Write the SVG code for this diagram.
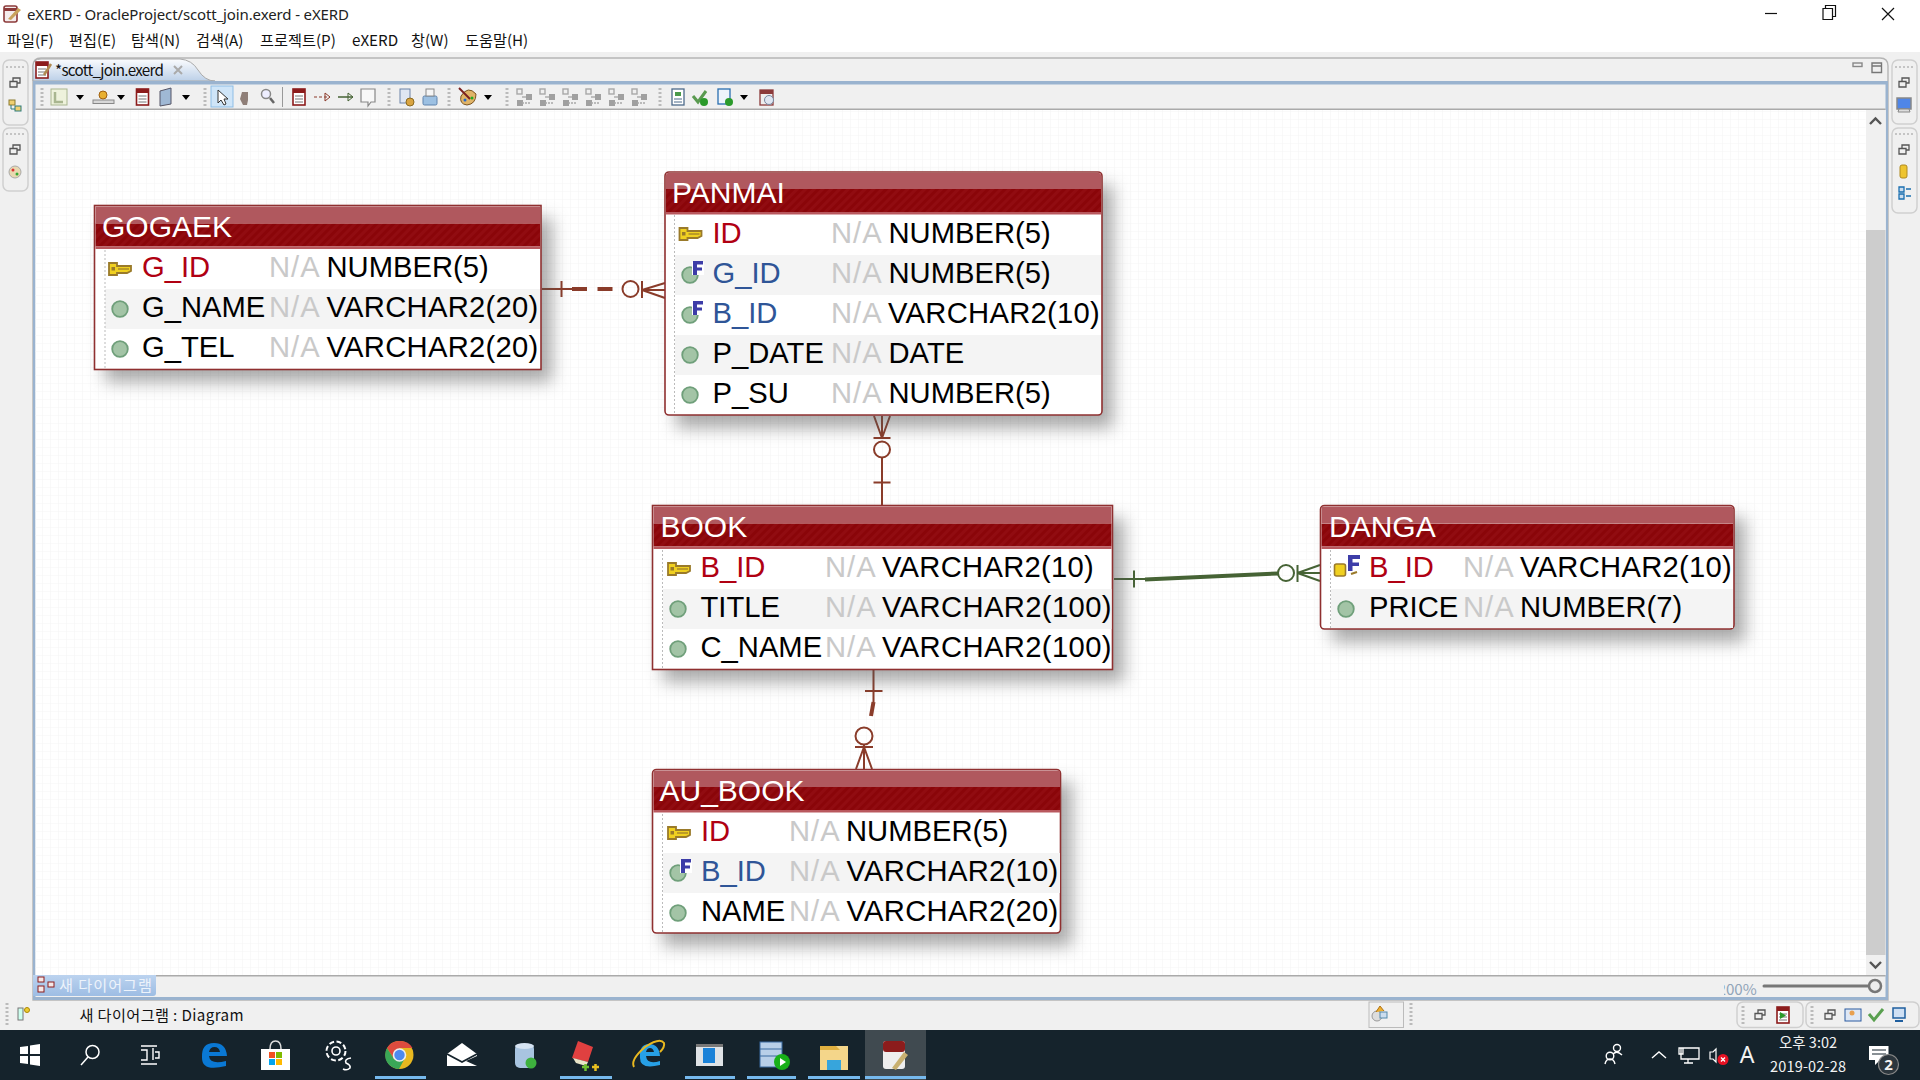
<svg xmlns="http://www.w3.org/2000/svg" xmlns:xlink="http://www.w3.org/1999/xlink" width="1920" height="1080" viewBox="0 0 1920 1080">
<defs>
<style>
.ui{font-family:"Noto Sans CJK KR","Noto Sans",sans-serif;font-size:15.2px;fill:#111}
.tt{font-family:"Noto Sans","Noto Sans CJK KR",sans-serif;font-size:15px;fill:#222}
.tray{font-family:"Noto Sans CJK KR","Noto Sans",sans-serif;font-size:14.5px;fill:#f2f2f2;text-anchor:middle}
.h{font-family:"Liberation Sans",Arial,sans-serif;font-size:30px;fill:#fff}
.c{font-family:"Liberation Sans",Arial,sans-serif;font-size:29.2px;fill:#000}
.v{letter-spacing:.28px}.w{letter-spacing:.38px}
.pk{fill:#b00012}.fk{fill:#2f5597}.na{fill:#c9c9c9;letter-spacing:1px}
.frame{fill:#fff;stroke:#8f3030;stroke-width:1.6}
.stripe{fill:#f4f4f4}
.dots{stroke:#bbb;stroke-width:1;stroke-dasharray:2 2}
.rel{fill:none;stroke:#8a3c2a;stroke-width:2}
.relb{fill:none;stroke:#8a3c2a;stroke-width:4}
.relg{fill:none;stroke:#466335;stroke-width:2}
.g1{fill:none;stroke:#a8a8a8;stroke-width:1.4}
.g2{fill:#a0a0a0}
.grip{stroke:#bbb;stroke-width:3;stroke-dasharray:2 2}
.pn{fill:#f0f0f0;stroke:#cfcfcf;stroke-width:1.5}
.arr{fill:#000}
.shadow{fill:#555;opacity:.5}
</style>
<pattern id="grid" x="2" y="7" width="8" height="8" patternUnits="userSpaceOnUse"><path d="M0 0H8M0 0V8" stroke="#f5f5f5" stroke-width="1.2" fill="none"/></pattern>
<pattern id="hatch" width="6" height="6" patternUnits="userSpaceOnUse" patternTransform="rotate(45)"><rect width="6" height="6" fill="#8a0509"/><rect width="3" height="6" fill="#910c11"/></pattern>
<filter id="sh" x="-15%" y="-20%" width="130%" height="150%"><feGaussianBlur stdDeviation="8.500"/></filter>
<linearGradient id="tab" x1="0" y1="0" x2="0" y2="1"><stop offset="0" stop-color="#fbfcfe"/><stop offset="1" stop-color="#bcd0e8"/></linearGradient>
<linearGradient id="tab2" x1="0" y1="0" x2="0" y2="1"><stop offset="0" stop-color="#bcd3ef"/><stop offset="1" stop-color="#9dbde4"/></linearGradient>
<g id="key"><path d="M1 -6H9V-3H23V2L19 4H9V6H1Z" fill="#f0d020" stroke="#9a7a2a" stroke-width="1.800"/><rect x="3.500" y="-2" width="3.500" height="3.500" fill="#9a7a2a"/><path d="M10 0H21" stroke="#9a7a2a" stroke-width="1.200"/></g>
<g id="dot"><circle r="7.800" fill="#a3c4a6" stroke="#6f9f7a" stroke-width="1.800"/></g>
<g id="fkdot"><circle r="7.800" fill="#a3c4a6" stroke="#6f9f7a" stroke-width="1.800"/><rect x="2" y="-13" width="12" height="13" fill="#fff"/><path d="M3 -14H13V-10.500H7V-7.500H12V-4.500H7V0H3Z" fill="#3d3da8"/></g>
<g id="restore"><path d="M-2 -1.500V-5H5V0H2M-5 -1.500H2V4H-5Z" fill="#f0f0f0" stroke="#555" stroke-width="1.300"/></g>
<g id="tbl"><rect x="-6" y="-8" width="12" height="16" fill="#fff" stroke="#8c1c1c" stroke-width="1.600"/><rect x="-6" y="-8" width="12" height="4" fill="#8c1c1c"/><path d="M-4 -1H4M-4 2H4M-4 5H4" stroke="#777"/></g>
<g id="galign"><rect x="-7" y="-8" width="5" height="5" class="g1"/><path d="M-2 0H7" class="g1"/><rect x="2" y="-3" width="6" height="6" class="g2"/><rect x="-7" y="3" width="6" height="6" class="g2"/><path d="M-2 6H7" class="g1" stroke-dasharray="2 1"/></g>
<clipPath id="zc"><rect x="1724" y="978" width="40" height="22"/></clipPath>
</defs>

<g id="chrome">
<rect width="1920" height="1080" fill="#f0f0f0"/>
<rect width="1920" height="52" fill="#fff"/>
<g id="appicon"><rect x="4" y="6" width="13" height="16" rx="2" fill="#f4ecec" stroke="#8c3a3a" stroke-width="1.600"/><path d="M4 8H17V11H4Z" fill="#8c3a3a"/><path d="M8 19L18 8L21 10L11 20Z" fill="#c9a25c"/></g>
<text class="tt" x="27" y="19.500" textLength="322">eXERD - OracleProject/scott_join.exerd - eXERD</text>
<path d="M1765 13.500H1777" stroke="#111" stroke-width="1.200"/>
<path d="M1823 8.500V19.500H1832.500V8.500ZM1825.500 8.500V5.500H1835.500V16.500H1832.500" fill="none" stroke="#111" stroke-width="1.200"/>
<path d="M1882 8L1894 20M1894 8L1882 20" stroke="#111" stroke-width="1.200"/>
<g id="menu">
<text class="ui" x="7" y="46">파일(F)</text><text class="ui" x="69" y="46">편집(E)</text><text class="ui" x="131" y="46">탐색(N)</text><text class="ui" x="196" y="46">검색(A)</text><text class="ui" x="260" y="46">프로젝트(P)</text><text class="ui" x="352" y="46">eXERD</text><text class="ui" x="411" y="46">창(W)</text><text class="ui" x="465" y="46">도움말(H)</text>
</g>
<path d="M33 1000V66Q33 58 41 58H1880Q1888 58 1888 66V1000Z" fill="#f0f0f0" stroke="#b5b5b5" stroke-width="1.400"/>
<path d="M33 81V66Q33 59 41 59H180Q192 60 198 70Q205 81 215 81Z" fill="url(#tab)" stroke="#aaa" stroke-width="1"/>
<rect x="33" y="81" width="1855" height="3.500" fill="#9ab3cf"/>
<rect x="33" y="81" width="2.500" height="919" fill="#9ab3cf"/>
<rect x="1885.500" y="81" width="2.500" height="919" fill="#9ab3cf"/>
<rect x="33" y="997" width="1855" height="3" fill="#9ab3cf"/>
<rect x="35.500" y="108.500" width="1850" height="1.500" fill="#aaa"/>
<rect x="35.500" y="110" width="1850" height="865" fill="#fff"/>
<rect x="35.500" y="110" width="1830" height="865" fill="url(#grid)"/>
<rect x="35.500" y="975" width="1850" height="1.500" fill="#aaa"/>
<rect x="1866" y="110" width="19.500" height="865" fill="#f0f0f0"/>
<rect x="1866" y="230" width="19.500" height="725" fill="#cdcdcd"/>
<path d="M1870 124L1875.500 118.500L1881 124M1870 962L1875.500 967.500L1881 962" fill="none" stroke="#555" stroke-width="2.400"/>
<g id="tab-label">
<use xlink:href="#tbl" transform="translate(42 70)"/><path d="M44 75L51 64" stroke="#b08a50" stroke-width="2.500"/>
<text class="ui" x="55" y="75.500" textLength="109">*scott_join.exerd</text>
<path d="M174 66L182 74M182 66L174 74" stroke="#aaa" stroke-width="2"/>
</g>
<rect x="1853" y="63" width="9" height="3.500" fill="none" stroke="#888" stroke-width="1.400"/>
<path d="M1872 63H1881.500V72.500H1872ZM1872 66H1881.500" fill="none" stroke="#777" stroke-width="1.400"/>
</g>

<g id="toolbar">
<path class="grip" d="M42 88V106M205 88V106M389 88V106M449 88V106M507 88V106M660 88V106"/>
<rect x="51" y="89" width="16" height="16" fill="#eef2dc" stroke="#a9b690"/><path d="M55 92V102H63" fill="none" stroke="#a9b690" stroke-width="2.500"/>
<path class="arr" d="M76 95H84L80 100ZM117 95H125L121 100ZM182 95H190L186 100ZM484 95H492L488 100ZM740 95H748L744 100Z"/>
<rect x="93" y="100" width="21" height="3.500" fill="#d8d8d8" stroke="#888"/><circle cx="103" cy="95" r="4" fill="#e8b030" stroke="#a06010"/>
<use xlink:href="#tbl" transform="translate(142.500 97)"/>
<path d="M160 91L171 88V104L160 106Z" fill="#9fb8d4" stroke="#556"/>
<rect x="211" y="86" width="22" height="21" fill="#cfe5f8" stroke="#8dbde6"/>
<path d="M218 90V103L221 100L224 105L226 104L224 99L228 99Z" fill="#fff" stroke="#333"/>
<path d="M242 92H248V100L247 105H243L240 99Z" fill="#8f7f78"/>
<circle cx="266" cy="94" r="4.500" fill="#eef" stroke="#888" stroke-width="1.500"/><path d="M270 98L274 103" stroke="#666" stroke-width="2.500"/>
<path d="M282.500 87V107" stroke="#999"/>
<use xlink:href="#tbl" transform="translate(299 97)"/>
<path d="M314 97H330" stroke="#8c3a2a" stroke-dasharray="3 2"/><path d="M325 93L330 97L325 101M325 93V101" fill="none" stroke="#8c3a2a"/>
<path d="M338 97H353" stroke="#466335" stroke-width="1.500"/><path d="M348 93L353 97L348 101M348 93V101" fill="none" stroke="#466335"/>
<path d="M361 89H375V102H371L368 106V102H361Z" fill="#f8f8f8" stroke="#888" stroke-width="1.200"/>
<rect x="400" y="89" width="10" height="14" fill="#dfe6f2" stroke="#6d83a8"/><circle cx="410" cy="102" r="4" fill="#d9a441" stroke="#8b6a20"/>
<rect x="423" y="96" width="14" height="9" rx="1.500" fill="#9cc0e2" stroke="#5f83ad"/><rect x="426" y="89" width="8" height="7" fill="#f5f5f5" stroke="#8a8a8a"/>
<path d="M461 96Q468 85 476 94Q476 104 467 105Q459 104 461 96Z" fill="#e0b468" stroke="#7a5320"/><path d="M459 88L470 99" stroke="#7a2020" stroke-width="2"/><circle cx="472" cy="98" r="1.500" fill="#2a2"/><circle cx="465" cy="100" r="1.500" fill="#26c"/>
<use xlink:href="#galign" transform="translate(524 97)"/><use xlink:href="#galign" transform="translate(547 97)"/><use xlink:href="#galign" transform="translate(570 97)"/><use xlink:href="#galign" transform="translate(593 97)"/><use xlink:href="#galign" transform="translate(616 97)"/><use xlink:href="#galign" transform="translate(639 97)"/>
<rect x="672" y="89" width="12" height="16" fill="#fff" stroke="#4d6a8a" stroke-width="1.300"/><rect x="675" y="92" width="6" height="4" fill="#4a9a4a"/><path d="M674 99H682M674 102H682" stroke="#4d6a8a"/>
<path d="M693 96L698 102L706 91" fill="none" stroke="#5a9a50" stroke-width="3"/><circle cx="704" cy="102" r="4" fill="#2b9a2b"/>
<rect x="718" y="89" width="12" height="15" fill="#eef4fb" stroke="#2a6fb0" stroke-width="1.300"/><circle cx="729" cy="102" r="4" fill="#2b9a2b"/>
<rect x="760" y="90" width="13" height="15" fill="#eee" stroke="#8c3a3a" stroke-width="1.300"/><rect x="760" y="90" width="13" height="4" fill="#8c3a3a"/><circle cx="769" cy="100" r="4.500" fill="#dfe6f2" stroke="#7788a0"/>
</g>

<g id="side-panels">
<rect class="pn" x="3" y="60" width="25" height="65" rx="6"/><rect class="pn" x="3" y="128" width="25" height="63" rx="6"/>
<rect class="pn" x="1892" y="60" width="25" height="64" rx="6"/><rect class="pn" x="1892" y="128" width="25" height="85" rx="6"/>
<path d="M6 67H25M6 134H25M1895 67H1914M1895 134H1914" stroke="#c4c4c4" stroke-width="2" stroke-dasharray="2 2"/>
<use xlink:href="#restore" transform="translate(15 83)"/><use xlink:href="#restore" transform="translate(15 150)"/>
<use xlink:href="#restore" transform="translate(1904 83)"/><use xlink:href="#restore" transform="translate(1904 150)"/>
<rect x="9" y="100" width="6" height="5" fill="#f0d070" stroke="#8a7a30"/><rect x="15" y="106" width="6" height="5" fill="#f0d070" stroke="#2a7a7a"/><path d="M11 105V109H15" fill="none" stroke="#2a7a7a"/>
<circle cx="15" cy="172" r="6" fill="#e8d8b0" stroke="#aaa"/><circle cx="13" cy="170" r="1.500" fill="#d33"/><circle cx="17" cy="174" r="1.500" fill="#3a3"/>
<rect x="1897" y="98" width="14" height="11" fill="#4f86e8" stroke="#888" stroke-width="1.500"/><path d="M1899 109H1909L1910 112H1898Z" fill="#ddd" stroke="#888"/>
<rect x="1900" y="165" width="7" height="13" rx="2" fill="#eec42f" stroke="#b08a20"/>
<path d="M1899 187H1904V192H1899ZM1899 194H1904V199H1899ZM1906 189H1911M1906 196H1911" fill="#cde" stroke="#1a6fb0" stroke-width="1.300"/>
</g>

<g id="bottom-ui">
<path d="M33 975H156V993Q156 996 153 996H33Z" fill="url(#tab2)"/>
<rect x="38" y="977" width="6" height="5" fill="#f5e8e8" stroke="#8c1c1c"/><rect x="38" y="986" width="6" height="6" fill="#f5e8e8" stroke="#8c1c1c"/><rect x="48" y="982" width="6" height="5" fill="#f5e8e8" stroke="#8c1c1c"/>
<text class="ui" x="59" y="990.500" style="fill:#edf3fb" textLength="93">새 다이어그램</text>
<text class="ui" x="1717.500" y="995" clip-path="url(#zc)" style="fill:#90a4b8">200%</text>
<path d="M1764 986H1872" stroke="#777" stroke-width="3" stroke-linecap="round"/><circle cx="1875" cy="986" r="6" fill="#eee" stroke="#777" stroke-width="2.500"/>
<path class="grip" d="M7 1003V1026"/>
<rect x="18" y="1008" width="5" height="12" fill="#cfe" stroke="#777"/><circle cx="27" cy="1010" r="2.500" fill="#ec3" stroke="#a80"/>
<text class="ui" x="79.500" y="1020.500" textLength="164">새 다이어그램 : Diagram</text>
<rect x="1369" y="1002" width="34.500" height="25.500" fill="#f0f0f0" stroke="#bbb"/>
<circle cx="1377" cy="1016" r="5" fill="#ddd" stroke="#999"/><path d="M1376 1012L1380 1006L1384 1011" fill="#eeb030" stroke="#b07010"/><rect x="1380" y="1012" width="7" height="6" fill="#cde" stroke="#58a"/>
<path class="grip" d="M1411 1003V1026"/>
<rect class="pn" x="1737" y="1002" width="66" height="25.500" rx="6"/><rect class="pn" x="1806" y="1002" width="113" height="25.500" rx="6"/>
<path class="grip" d="M1743 1006V1024M1812 1006V1024"/>
<use xlink:href="#restore" transform="translate(1760 1015)"/><use xlink:href="#restore" transform="translate(1830 1015)"/>
<use xlink:href="#tbl" transform="translate(1783 1015)"/><path d="M1780 1012V1019L1786 1015.500Z" fill="#2a9a2a"/>
<rect x="1845" y="1009" width="16" height="12" fill="#dfe8f5" stroke="#2a5aa0"/><circle cx="1852" cy="1013" r="2.500" fill="#e8a050"/>
<path d="M1869 1014L1874 1020L1883 1009" fill="none" stroke="#5aa050" stroke-width="3"/>
<rect x="1893" y="1008" width="12" height="10" fill="#cfe0f4" stroke="#1f5f9f" stroke-width="1.500"/><path d="M1895 1021H1903" stroke="#1f5f9f" stroke-width="2"/>
</g>

<g id="taskbar">
<rect y="1030" width="1920" height="50" fill="#15232c"/>
<rect x="865" y="1030" width="61" height="50" fill="#404a50"/>
<path d="M375 1077.500H426M560 1077.500H612M685 1077.500H735M747 1077.500H796M808 1077.500H860M865 1077.500H926" stroke="#76b9ed" stroke-width="3"/>
<path d="M20 1047L28 1046V1054H20ZM30 1045.500L40 1044V1054H30ZM20 1056H28V1064L20 1063ZM30 1056H40V1066L30 1064.500Z" fill="#fff"/>
<circle cx="92.500" cy="1052" r="6.500" fill="none" stroke="#fff" stroke-width="1.500"/><path d="M88 1057L81 1065" stroke="#fff" stroke-width="1.500"/>
<path d="M141 1046H157M141 1050H147V1060H141M153 1048V1060M141 1064H157M155 1052H159V1058H155" fill="none" stroke="#fff" stroke-width="1.400"/>
<path d="M202 1058Q201 1043 214 1043Q226 1043 227 1056H209Q210 1065 226 1061V1066Q202 1072 202 1058ZM209 1052H220Q219 1047 214.500 1047Q210 1047 209 1052Z" fill="#0a78d4"/>
<path d="M261 1049H290V1070H261Z" fill="#fff"/><path d="M270 1049Q270 1041 275.500 1041Q281 1041 281 1049" fill="none" stroke="#ddd" stroke-width="1.500"/>
<rect x="269" y="1052" width="6" height="6" fill="#f25022"/><rect x="276" y="1052" width="6" height="6" fill="#7fba00"/><rect x="269" y="1059" width="6" height="6" fill="#00a4ef"/><rect x="276" y="1059" width="6" height="6" fill="#ffb900"/>
<circle cx="336" cy="1051" r="9.500" fill="none" stroke="#fff" stroke-width="2" stroke-dasharray="5 2.500"/><circle cx="336" cy="1051" r="4" fill="none" stroke="#fff" stroke-width="1.600"/><path d="M351 1058Q344 1059 346 1063Q351 1065 350 1068Q347 1071 343 1069" fill="none" stroke="#fff" stroke-width="1.600"/>
<circle cx="399.500" cy="1055" r="14" fill="#e8b820"/><path d="M399.500 1041A14 14 0 0 0 387 1048L394 1059L399.500 1048H412.500A14 14 0 0 0 399.500 1041Z" fill="#dd4b3e"/><path d="M387 1048A14 14 0 0 0 399 1069L405 1058L394 1059Z" fill="#3aa757"/><circle cx="399.500" cy="1055" r="6" fill="#4d8af0" stroke="#eee" stroke-width="1.600"/>
<path d="M447 1054L462 1043L477 1054V1066H447Z" fill="#fff"/><path d="M447 1054L462 1062L477 1054" fill="none" stroke="#15232c" stroke-width="1.800"/><path d="M477 1056L466 1061L477 1066Z" fill="#15232c"/>
<rect x="515" y="1044" width="19" height="24" rx="5" fill="#a8c4e0"/><ellipse cx="524.500" cy="1046" rx="9.500" ry="3" fill="#d5e3f2"/><circle cx="531" cy="1063" r="5.500" fill="#3eb13e"/>
<path d="M572 1058L578 1041L593 1047L588 1062Z" fill="#e04040"/><path d="M573 1058L588 1062L586 1066L576 1063Z" fill="#e9e4c8"/><path d="M582 1067H589M585.500 1064V1071" stroke="#6fbf30" stroke-width="2.500"/><path d="M592 1067H599M595.500 1064V1071" stroke="#e8c020" stroke-width="2.500"/>
<path d="M640 1058Q639 1044 649 1044Q659 1044 660 1056H646Q647 1065 660 1061V1065Q640 1070 640 1058ZM646 1052H654Q653 1048 650 1048Q647 1048 646 1052Z" fill="#27a0e6"/><path d="M634 1067Q630 1060 645 1047Q660 1037 664 1043Q665 1047 660 1052" fill="none" stroke="#e8b820" stroke-width="2"/>
<rect x="696" y="1044" width="27" height="22" fill="#dfe3e6"/><rect x="703" y="1048" width="12" height="15" fill="#1a82d8"/><rect x="696" y="1044" width="27" height="3" fill="#777"/>
<rect x="760" y="1042" width="22" height="25" fill="#b8cfe8" stroke="#3a6aa0"/><path d="M760 1049H782M760 1056H782" stroke="#3a6aa0"/><circle cx="782" cy="1062" r="8" fill="#18b018"/><path d="M780 1058V1066L786 1062Z" fill="#fff"/>
<path d="M820 1046H848V1070H820Z" fill="#f4d68a"/><path d="M820 1046H836L840 1050H820Z" fill="#e0b040"/><rect x="827" y="1060" width="14" height="10" fill="#37a5dc"/>
<rect x="883" y="1041" width="22" height="28" rx="3" fill="#eee"/><rect x="883" y="1041" width="22" height="11" rx="3" fill="#8c1c1c"/><path d="M892 1068L904 1052L908 1055L896 1070Z" fill="#c8b070"/>
<g id="tray">
<circle cx="1617" cy="1048" r="3.500" fill="none" stroke="#fff" stroke-width="1.400"/><circle cx="1610" cy="1056" r="3.800" fill="none" stroke="#fff" stroke-width="1.400"/><path d="M1605 1064Q1606 1059 1610 1059Q1614 1059 1615 1064M1613 1054Q1617 1050 1622 1055" fill="none" stroke="#fff" stroke-width="1.400"/>
<path d="M1652 1058L1659 1052L1666 1058" fill="none" stroke="#fff" stroke-width="1.400"/>
<path d="M1681 1048V1059H1699V1048ZM1688 1059V1063M1684 1063H1693M1679 1048H1683V1054H1679Z" fill="none" stroke="#fff" stroke-width="1.300"/>
<path d="M1710 1052H1713L1716 1049V1062L1713 1059H1710Z" fill="none" stroke="#fff" stroke-width="1.200"/>
<circle cx="1723" cy="1059.500" r="5.500" fill="#e81123"/><path d="M1721 1057.500L1725 1061.500M1725 1057.500L1721 1061.500" stroke="#fff" stroke-width="1.300"/>
<text class="tray" x="1747" y="1063" style="font-size:23px;font-family:'Noto Sans',sans-serif">A</text>
<text class="tray" x="1808" y="1048">오후 3:02</text>
<text class="tray" x="1808" y="1072" textLength="76">2019-02-28</text>
<path d="M1869 1046H1888.500V1060H1880L1875 1065V1060H1869Z" fill="#fff"/><path d="M1872 1050H1886M1872 1054H1886" stroke="#15232c" stroke-width="1.200"/>
<circle cx="1888.500" cy="1064.500" r="10" fill="#2c363d" stroke="#888" stroke-width="1.200"/>
<text class="tray" x="1888.500" y="1070" style="font-weight:700;font-size:15px;font-family:'Noto Sans',sans-serif">2</text>
</g>
</g>

<g id="connectors">
<path class="rel" d="M542 289H572M561.500 281V297"/><path class="relb" d="M572 289H587M597.500 289H612.500"/>
<circle class="rel" cx="630.500" cy="289" r="8"/><path class="rel" d="M642 281V298M642 290L665 283M642 290L665 298M642 290H665"/>
<path class="rel" d="M882 505V458M873.500 482.500H890.500M873.500 438H890.500"/><circle class="rel" cx="882" cy="449.500" r="8"/><path class="rel" d="M882 438V416M882 438L874 416M882 438L890 416"/>
<path class="relg" d="M1114 579H1146M1134 570.500V587.500"/><path d="M1145 579.500L1278 573.500" fill="none" stroke="#466335" stroke-width="4"/>
<circle class="relg" cx="1286" cy="573" r="8"/><path class="relg" d="M1297.500 565V582M1297.500 573L1320 565M1297.500 573L1320 581M1297.500 573H1320"/>
<path class="rel" d="M873.500 669V702M865 691H882.500"/><path class="relb" d="M873.500 702L871 716"/>
<circle class="rel" cx="864" cy="736" r="8.500"/><path class="rel" d="M855 747H873M864 744.500V769M864 747L856 769M864 747L872 769"/>
</g>

<g id="GOGAEK">
<rect class="shadow" x="105" y="218" width="447" height="164" filter="url(#sh)"/>
<rect class="frame" x="94.500" y="205.500" width="446.500" height="164"/>
<rect x="95.500" y="206.500" width="444.500" height="17" fill="#b0585e"/><rect x="95.500" y="223.500" width="444.500" height="23" fill="url(#hatch)"/><rect x="95.500" y="246.500" width="444.500" height="2.500" fill="#b9585e"/>
<text class="h" x="102" y="236.700">GOGAEK</text>
<rect class="stripe" x="105" y="289" width="435" height="40"/>
<path class="dots" d="M105 250V369"/>
<use xlink:href="#key" transform="translate(108 269)"/><use xlink:href="#dot" transform="translate(120 309)"/><use xlink:href="#dot" transform="translate(120 349)"/>
<text class="c pk" x="142" y="276.700">G_ID</text><text class="c na" x="269" y="276.700">N/A</text><text class="c" x="326.500" y="276.700">NUMBER(5)</text>
<text class="c" x="142" y="316.700">G_NAME</text><text class="c na" x="269" y="316.700">N/A</text><text class="c v" x="326.500" y="316.700">VARCHAR2(20)</text>
<text class="c" x="142" y="356.700">G_TEL</text><text class="c na" x="269" y="356.700">N/A</text><text class="c v" x="326.500" y="356.700">VARCHAR2(20)</text>
</g>

<g id="PANMAI">
<rect class="shadow" x="676" y="185" width="437" height="243" filter="url(#sh)"/>
<rect class="frame" x="665" y="172" width="437" height="243" rx="4"/>
<path d="M666 189V175Q666 173 668 173H1099Q1101 173 1101 175V189Z" fill="#b0585e"/><rect x="666" y="189" width="435" height="23" fill="url(#hatch)"/><rect x="666" y="212" width="435" height="2.500" fill="#b9585e"/>
<text class="h" x="672" y="202.700">PANMAI</text>
<rect class="stripe" x="675" y="255" width="426" height="40"/><rect class="stripe" x="675" y="335" width="426" height="40"/>
<path class="dots" d="M674.500 215V414"/>
<use xlink:href="#key" transform="translate(678.500 234)"/><use xlink:href="#fkdot" transform="translate(690 275)"/><use xlink:href="#fkdot" transform="translate(690 315)"/><use xlink:href="#dot" transform="translate(690 355)"/><use xlink:href="#dot" transform="translate(690 395)"/>
<text class="c pk" x="712.500" y="242.700">ID</text><text class="c na" x="831" y="242.700">N/A</text><text class="c" x="888.500" y="242.700">NUMBER(5)</text>
<text class="c fk" x="712.500" y="282.700">G_ID</text><text class="c na" x="831" y="282.700">N/A</text><text class="c" x="888.500" y="282.700">NUMBER(5)</text>
<text class="c fk" x="712.500" y="322.700">B_ID</text><text class="c na" x="831" y="322.700">N/A</text><text class="c v" x="888" y="322.700">VARCHAR2(10)</text>
<text class="c" x="712.500" y="362.700">P_DATE</text><text class="c na" x="831" y="362.700">N/A</text><text class="c" x="888.500" y="362.700">DATE</text>
<text class="c" x="712.500" y="402.700">P_SU</text><text class="c na" x="831" y="402.700">N/A</text><text class="c" x="888.500" y="402.700">NUMBER(5)</text>
</g>

<g id="BOOK">
<rect class="shadow" x="663" y="518" width="461" height="164" filter="url(#sh)"/>
<rect class="frame" x="652.500" y="505.500" width="460" height="164"/>
<rect x="653.500" y="506.500" width="458" height="17" fill="#b0585e"/><rect x="653.500" y="523.500" width="458" height="23" fill="url(#hatch)"/><rect x="653.500" y="546.500" width="458" height="2.500" fill="#b9585e"/>
<text class="h" x="660.500" y="536.700">BOOK</text>
<rect class="stripe" x="663" y="589" width="448.500" height="40"/>
<path class="dots" d="M662.500 550V669"/>
<use xlink:href="#key" transform="translate(667 569)"/><use xlink:href="#dot" transform="translate(678 609)"/><use xlink:href="#dot" transform="translate(678 649)"/>
<text class="c pk" x="700.500" y="576.700">B_ID</text><text class="c na" x="825" y="576.700">N/A</text><text class="c v" x="882" y="576.700">VARCHAR2(10)</text>
<text class="c" x="700.500" y="616.700">TITLE</text><text class="c na" x="825" y="616.700">N/A</text><text class="c w" x="882" y="616.700">VARCHAR2(100)</text>
<text class="c" x="700.500" y="656.700">C_NAME</text><text class="c na" x="825" y="656.700">N/A</text><text class="c w" x="882" y="656.700">VARCHAR2(100)</text>
</g>

<g id="DANGA">
<rect class="shadow" x="1332" y="518" width="413" height="124" filter="url(#sh)"/>
<rect class="frame" x="1320.500" y="505.500" width="413.500" height="123.500" rx="4"/>
<path d="M1321.500 523V508Q1321.500 506.500 1323.500 506.500H1731Q1733 506.500 1733 508V523Z" fill="#b0585e"/><rect x="1321.500" y="523.500" width="411.500" height="23" fill="url(#hatch)"/><rect x="1321.500" y="546.500" width="411.500" height="2.500" fill="#b9585e"/>
<text class="h" x="1329" y="536.700">DANGA</text>
<rect class="stripe" x="1331" y="589" width="402" height="39"/>
<path class="dots" d="M1330.500 550V628"/>
<rect x="1334.500" y="564" width="11" height="12" rx="2" fill="#f0d020" stroke="#9a7a2a" stroke-width="1.600"/><rect x="1348" y="555" width="12" height="14" fill="#fff"/><path d="M1348 555H1360V559H1352.500V562.500H1359V566H1352.500V571H1348Z" fill="#3d3da8"/><path d="M1351 574L1357 572" stroke="#9a7a2a" stroke-width="2"/>
<use xlink:href="#dot" transform="translate(1346 609)"/>
<text class="c pk" x="1369" y="576.700">B_ID</text><text class="c na" x="1463" y="576.700">N/A</text><text class="c v" x="1520" y="576.700">VARCHAR2(10)</text>
<text class="c" x="1369" y="616.700">PRICE</text><text class="c na" x="1463" y="616.700">N/A</text><text class="c" x="1520" y="616.700">NUMBER(7)</text>
</g>

<g id="AU_BOOK">
<rect class="shadow" x="663" y="782" width="409" height="164" filter="url(#sh)"/>
<rect class="frame" x="652.500" y="769.500" width="408" height="163.500" rx="4"/>
<path d="M653.500 787V772Q653.500 770.500 655.500 770.500H1058Q1060 770.500 1060 772V787Z" fill="#b0585e"/><rect x="653.500" y="787" width="406.500" height="23" fill="url(#hatch)"/><rect x="653.500" y="810" width="406.500" height="2.500" fill="#b9585e"/>
<text class="h" x="659.500" y="800.700">AU_BOOK</text>
<rect class="stripe" x="663" y="853" width="397" height="40"/>
<path class="dots" d="M662.500 814V932"/>
<use xlink:href="#key" transform="translate(667 833)"/><use xlink:href="#fkdot" transform="translate(678 873)"/><use xlink:href="#dot" transform="translate(678 913)"/>
<text class="c pk" x="701" y="840.700">ID</text><text class="c na" x="789" y="840.700">N/A</text><text class="c" x="846" y="840.700">NUMBER(5)</text>
<text class="c fk" x="701" y="880.700">B_ID</text><text class="c na" x="789" y="880.700">N/A</text><text class="c v" x="846.500" y="880.700">VARCHAR2(10)</text>
<text class="c" x="701" y="920.700">NAME</text><text class="c na" x="789" y="920.700">N/A</text><text class="c v" x="846.500" y="920.700">VARCHAR2(20)</text>
</g>
</svg>
